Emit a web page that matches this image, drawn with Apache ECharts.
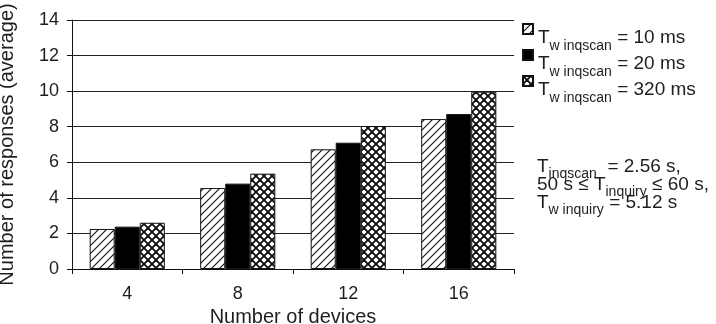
<!DOCTYPE html>
<html>
<head>
<meta charset="UTF-8">
<script src="https://cdn.jsdelivr.net/npm/echarts@6/dist/echarts.min.js"></script>
<style>
body{margin:0;background:#fff;}
#chart{width:716px;height:324px;}
</style>
</head>
<body>
<div id="chart"></div>
<script>

const devices = ["4","8","12","16"]
const scanWindows = ["10 ms","20 ms","320 ms"]
const win10 = [2.25, 4.55, 6.73, 8.43]
const win20 = [2.38, 4.8, 7.1, 8.71]
const win320 = [2.6, 5.36, 8.04, 9.97]
const yTicks = [0, 14, 2]

function hatch(){
 const c = document.createElement("canvas")
 c.width = 8; c.height = 8
 const g = c.getContext("2d")
 g.fillStyle = "#fff"; g.fillRect(0,0,8,8)
 g.strokeStyle = "#111"; g.lineWidth = 1.1
 g.beginPath()
 g.moveTo(-1,9); g.lineTo(9,-1)
 g.moveTo(-1,1); g.lineTo(1,-1)
 g.moveTo(7,9); g.lineTo(9,7)
 g.stroke()
 return c
}

function cross(){
 const c = document.createElement("canvas")
 c.width = 8; c.height = 8
 const g = c.getContext("2d")
 g.fillStyle = "#fff"; g.fillRect(0,0,8,8)
 g.strokeStyle = "#111"; g.lineWidth = 1.9
 g.beginPath()
 g.moveTo(-1,9); g.lineTo(9,-1)
 g.moveTo(-1,-1); g.lineTo(9,9)
 g.moveTo(-1,1); g.lineTo(1,-1)
 g.moveTo(7,9); g.lineTo(9,7)
 g.moveTo(7,-1); g.lineTo(9,1)
 g.moveTo(-1,7); g.lineTo(1,9)
 g.stroke()
 return c
}

const fills = [
 {image:hatch(),repeat:"repeat"},
 "#000",
 {image:cross(),repeat:"repeat"}
]
const values = [win10, win20, win320]

const font = "Liberation Sans, Arial, sans-serif"
const ink = "#1e1e1e"

// square icon sitting at the top of a taller box, so it lines up with the "T"
const topSquare = "path://M0,0L10,0L10,10L0,10ZM0,28"

const chart = echarts.init(document.getElementById("chart"))

chart.setOption({
 animation:false,
 textStyle:{ fontFamily:font, color:ink },
 grid:{ left:72, right:202, top:20, bottom:55, outerBoundsMode:"none" },
 legend:{
  orient:"vertical",
  left:522,
  top:23,
  padding:0,
  itemWidth:10,
  itemHeight:28,
  itemGap:-4,
  icon:topSquare,
  data:scanWindows,
  formatter:n => "{t|T}{s|w inqscan}{t| = " + n + "}",
  textStyle:{
   rich:{
    t:{ fontSize:19, color:ink, fontFamily:font, lineHeight:20, verticalAlign:"top" },
    s:{ fontSize:14, color:ink, fontFamily:font, lineHeight:14, padding:[11,0,0,0], verticalAlign:"top" }
   }
  }
 },
 xAxis:{
  type:"category",
  data:devices,
  name:"Number of devices",
  nameLocation:"middle",
  nameGap:36,
  nameTextStyle:{ fontSize:20, color:ink },
  axisLine:{ lineStyle:{ color:"#111", width:1 } },
  axisTick:{ show:true, length:5, lineStyle:{ color:"#111" } },
  axisLabel:{ fontSize:18, color:ink, margin:16 }
 },
 yAxis:{
  type:"value",
  min:yTicks[0],
  max:yTicks[1],
  interval:yTicks[2],
  name:"Number of responses (average)",
  nameLocation:"middle",
  nameGap:55,
  nameTextStyle:{ fontSize:20, color:ink },
  axisLine:{ show:true, lineStyle:{ color:"#111", width:1 } },
  axisTick:{ show:true, length:5, lineStyle:{ color:"#111" } },
  axisLabel:{ fontSize:18, color:ink, margin:13 },
  splitLine:{ lineStyle:{ color:"#222", width:1 } }
 },
 series:scanWindows.map((n,i)=>({
  name:n,
  type:"bar",
  data:values[i],
  barGap:"0%",
  barCategoryGap:"32%",
  itemStyle:{ color:fills[i], borderColor:"#111", borderWidth:1 }
 })),
 graphic:[
  {
   type:"text",
   left:537,
   top:157,
   style:{
    text:"{t|T}{s|inqscan}{t|  = 2.56 s,}\n{t|50 s ≤ T}{s|inquiry}{t| ≤ 60 s,}\n{t|T}{s|w inquiry}{t| = 5.12 s}",
    rich:{
     t:{ fontSize:19, fill:ink, fontFamily:font, lineHeight:18, verticalAlign:"top" },
     s:{ fontSize:14, fill:ink, fontFamily:font, lineHeight:13, padding:[10,0,0,0], verticalAlign:"top" }
    }
   }
  }
 ]
})

</script>
</body>
</html>
